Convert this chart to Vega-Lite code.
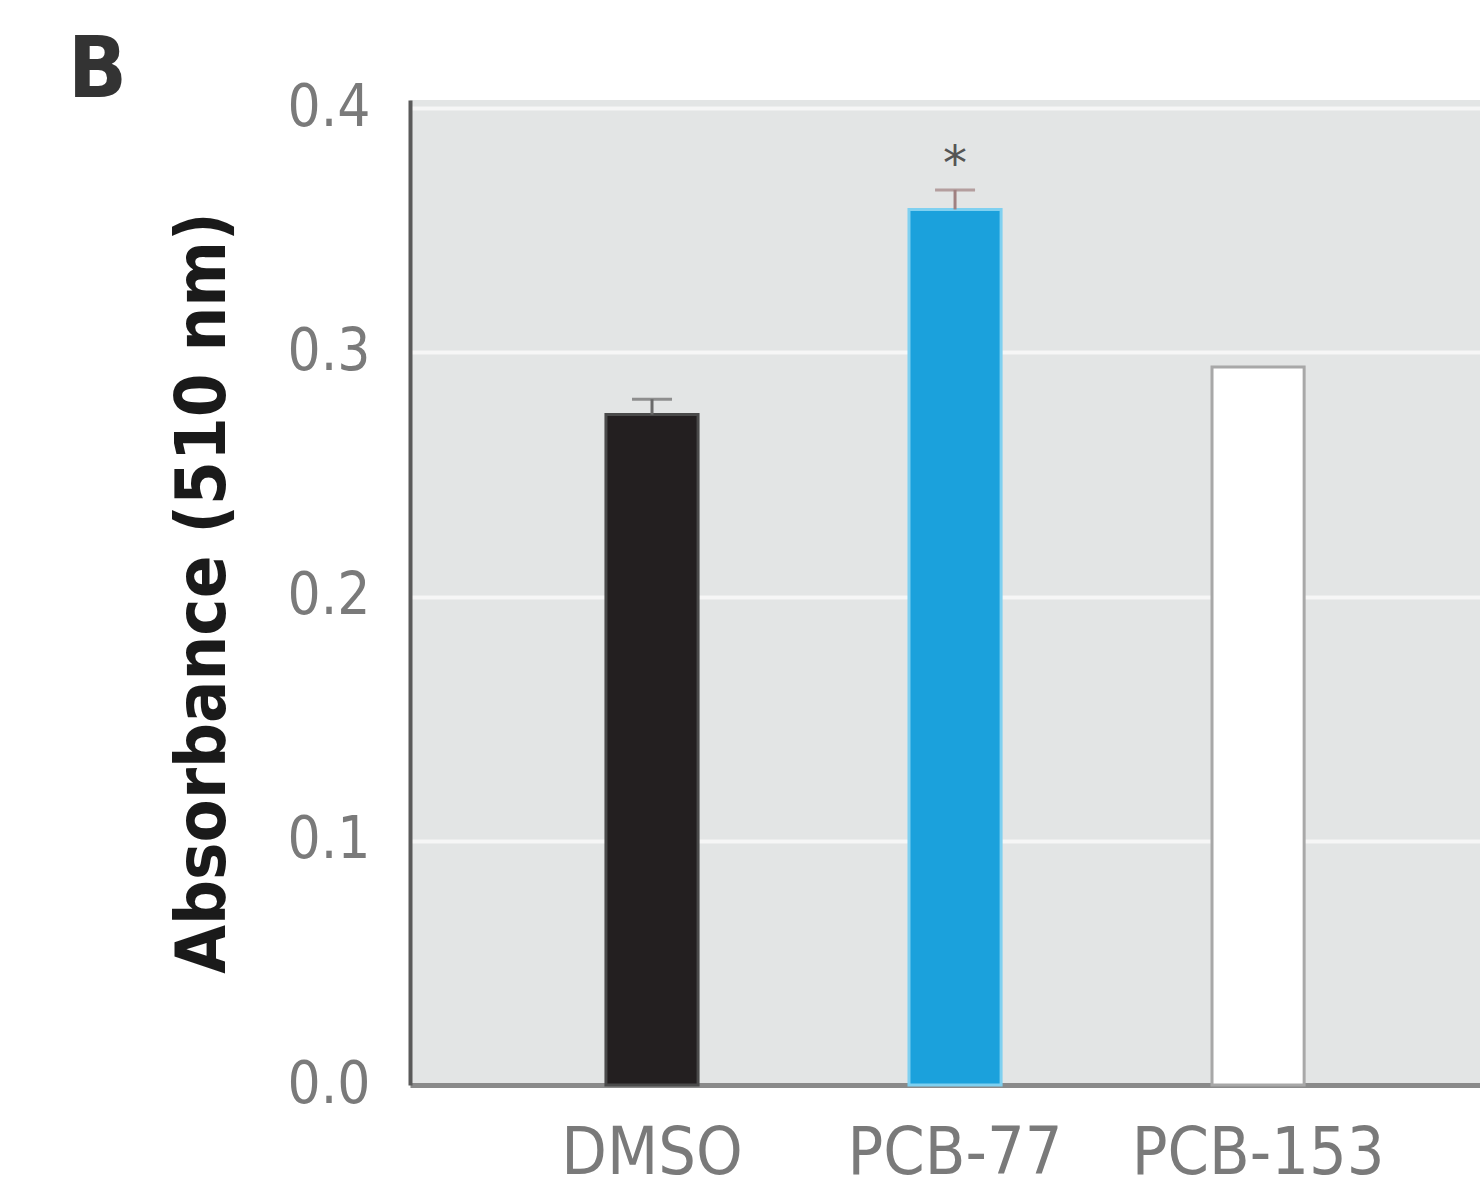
{
  "$schema": "https://vega.github.io/schema/vega-lite/v6.json",
  "autosize": "none",
  "width": 1070,
  "height": 985,
  "padding": {"left": 410, "top": 100, "right": 0, "bottom": 115},
  "background": "white",
  "title": {"text": "B", "anchor": "start", "frame": "group", "fontSize": 86, "font": "DejaVu Sans Condensed, sans-serif", "fontWeight": "bold", "color": "#333333", "dx": -342, "dy": 122, "offset": 0, "baseline": "bottom"},
  "config": {
    "view": {"fill": "#e3e5e5", "stroke": null},
    "axis": {"labelFont": "DejaVu Sans Condensed, sans-serif", "titleFont": "DejaVu Sans Condensed, sans-serif", "labelLimit": 0}
  },
  "data": {"values": [
    {"group": "DMSO", "value": 0.2745, "err": 0.2808, "sig": ""},
    {"group": "PCB-77", "value": 0.3585, "err": 0.3665, "sig": "*"},
    {"group": "PCB-153", "value": 0.294, "err": 0.294, "sig": ""}
  ]},
  "encoding": {
    "x": {"field": "group", "type": "nominal", "sort": null,
      "scale": {"paddingInner": 0.696, "paddingOuter": 0.6135, "align": 0.527},
      "axis": {"title": null, "labelAngle": 0, "labelFontSize": 66, "labelColor": "#7a7a7a", "labelPadding": 36, "ticks": false, "domainColor": "#8a8a8a", "domainWidth": 5, "grid": false}
    }
  },
  "layer": [
    {
      "mark": {"type": "bar", "strokeWidth": 3},
      "encoding": {
        "y": {"field": "value", "type": "quantitative",
          "scale": {"domain": [0, 0.4033], "nice": false, "zero": true},
          "axis": {"title": "Absorbance (510 nm)", "titleFontSize": 70, "titleFontWeight": "bold", "titleColor": "#1a1a1a", "titlePadding": 48,
            "values": [0, 0.1, 0.2, 0.3, 0.4], "format": ".1f", "labelFontSize": 58, "labelColor": "#7a7a7a", "labelPadding": 40, "ticks": false,
            "domainColor": "#5a5a5a", "domainWidth": 4, "grid": true, "gridColor": "#f6f6f6", "gridWidth": 4}
        },
        "fill": {"field": "group", "type": "nominal", "legend": null,
          "scale": {"domain": ["DMSO", "PCB-77", "PCB-153"], "range": ["#231f20", "#1ba1dc", "#ffffff"]}},
        "stroke": {"field": "group", "type": "nominal", "legend": null,
          "scale": {"domain": ["DMSO", "PCB-77", "PCB-153"], "range": ["#4a4a4a", "#7fd0f0", "#a8a8a8"]}}
      }
    },
    {
      "transform": [{"filter": "datum.err > datum.value"}],
      "mark": {"type": "rule", "strokeWidth": 3},
      "encoding": {
        "y": {"field": "value", "type": "quantitative"},
        "y2": {"field": "err"},
        "color": {"field": "group", "type": "nominal", "legend": null,
          "scale": {"domain": ["DMSO", "PCB-77", "PCB-153"], "range": ["#6a6a6a", "#a08080", "#a8a8a8"]}}
      }
    },
    {
      "transform": [{"filter": "datum.err > datum.value"}],
      "mark": {"type": "tick", "thickness": 3, "size": 40},
      "encoding": {
        "y": {"field": "err", "type": "quantitative"},
        "color": {"field": "group", "type": "nominal", "legend": null}
      }
    },
    {
      "mark": {"type": "text", "fontSize": 48, "baseline": "bottom", "dy": 0, "color": "#555555", "font": "DejaVu Sans"},
      "encoding": {
        "y": {"field": "err", "type": "quantitative"},
        "text": {"field": "sig"}
      }
    }
  ]
}
